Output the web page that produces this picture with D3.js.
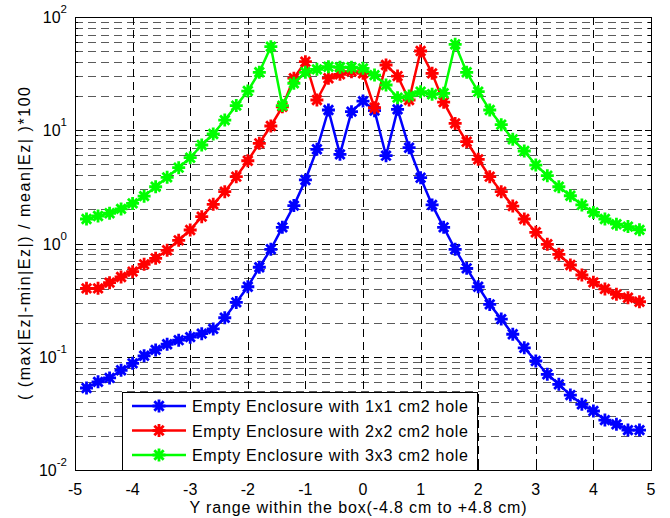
<!DOCTYPE html>
<html>
<head>
<meta charset="utf-8">
<script src="https://cdn.jsdelivr.net/npm/d3@7"></script>
<style>
  html, body { margin: 0; padding: 0; background: #fff; }
  svg { display: block; font-family: "Liberation Sans", Arial, Helvetica, sans-serif; }
</style>
</head>
<body>
<svg id="chart" width="670" height="518"></svg>
<script>
// ---- data ----
const xValues = [-4.8,-4.6,-4.4,-4.2,-4.0,-3.8,-3.6,-3.4,-3.2,-3.0,-2.8,-2.6,-2.4,-2.2,-2.0,-1.8,-1.6,-1.4,-1.2,-1.0,-0.8,-0.6,-0.4,-0.2,0,
                 0.2,0.4,0.6,0.8,1.0,1.2,1.4,1.6,1.8,2.0,2.2,2.4,2.6,2.8,3.0,3.2,3.4,3.6,3.8,4.0,4.2,4.4,4.6,4.8];

const hole1x1 = [0.053,0.060,0.065,0.076,0.0875,0.102,0.115,0.129,0.140,0.149,0.160,0.176,0.221,0.302,0.415,0.617,0.889,1.39,2.16,3.64,6.79,15.1,6.13,14.6,18.1,
                 14.9,5.96,15.3,7.01,3.81,2.19,1.39,0.889,0.604,0.415,0.290,0.215,0.158,0.120,0.0917,0.070,0.0571,0.0459,0.0380,0.0332,0.0276,0.0253,0.0225,0.0225];

const hole2x2 = [0.402,0.402,0.451,0.506,0.564,0.655,0.740,0.871,1.067,1.316,1.725,2.22,2.87,3.89,5.38,7.67,10.9,16.1,28.8,40.3,18.5,28.8,31.2,32.9,31.8,
                 15.8,37.7,30.1,18.5,50.1,31.8,17.7,11.5,7.92,5.54,3.89,2.87,2.14,1.645,1.256,0.984,0.803,0.646,0.527,0.454,0.397,0.356,0.332,0.306];

const hole3x3 = [1.645,1.75,1.85,2.02,2.26,2.62,3.17,3.84,4.67,5.72,7.41,9.27,12.3,16.5,22.2,32.5,54.7,16.5,26.0,32.5,34.5,36.4,36.0,36.0,35.2,
                 30.7,25.1,19.4,20.1,21.9,20.8,21.2,57.4,32.5,21.9,15.1,11.2,8.32,6.56,4.93,3.97,3.17,2.64,2.19,1.88,1.645,1.48,1.41,1.32];

const seriesNames = ["Empty Enclosure with 1x1 cm2 hole",
                     "Empty Enclosure with 2x2 cm2 hole",
                     "Empty Enclosure with 3x3 cm2 hole"];
const seriesColors = ["#0000ff", "#ff0000", "#00ff00"];
const xTickValues = [-5,-4,-3,-2,-1,0,1,2,3,4,5];
const yTickExponents = [-2,-1,0,1,2];
const xLabel = "Y range within the box(-4.8 cm to +4.8 cm)";
const yLabel = "( (max|Ez|-min|Ez|) / mean|Ez| )*100";

// ---- layout ----
const svg = d3.select("#chart");
const L = 75, T = 17, W = 576, H = 453;
const x = d3.scaleLinear().domain([-5, 5]).range([L, L + W]);
const y = d3.scaleLog().domain([0.01, 100]).range([T + H, T]);

const g = svg.append("g");

// minor y values
const minorY = [];
for (let e = -2; e < 2; e++) for (let m = 2; m <= 9; m++) minorY.push(m * Math.pow(10, e));

const dash = "8,5";
// grid: minor horizontal
g.append("g").selectAll("line").data(minorY).join("line")
  .attr("x1", L).attr("x2", L + W)
  .attr("y1", d => Math.round(y(d)) + 0.5).attr("y2", d => Math.round(y(d)) + 0.5)
  .attr("stroke", "#5a5a5a").attr("stroke-width", 1).attr("stroke-dasharray", dash);
// grid: major horizontal
g.append("g").selectAll("line").data(yTickExponents.slice(1, -1)).join("line")
  .attr("x1", L).attr("x2", L + W)
  .attr("y1", d => Math.round(y(Math.pow(10, d))) + 0.5).attr("y2", d => Math.round(y(Math.pow(10, d))) + 0.5)
  .attr("stroke", "#000").attr("stroke-width", 1).attr("stroke-dasharray", dash);
// grid: vertical
g.append("g").selectAll("line").data(xTickValues.slice(1, -1)).join("line")
  .attr("x1", d => Math.round(x(d)) + 0.5).attr("x2", d => Math.round(x(d)) + 0.5)
  .attr("y1", T).attr("y2", T + H)
  .attr("stroke", "#000").attr("stroke-width", 1).attr("stroke-dasharray", dash);

// ticks (inward)
const tk = g.append("g").attr("stroke", "#000").attr("stroke-width", 1);
xTickValues.forEach(v => {
  const px = Math.round(x(v)) + 0.5;
  tk.append("line").attr("x1", px).attr("x2", px).attr("y1", T + H).attr("y2", T + H - 6);
  tk.append("line").attr("x1", px).attr("x2", px).attr("y1", T).attr("y2", T + 6);
});
yTickExponents.forEach(e => {
  const py = Math.round(y(Math.pow(10, e))) + 0.5;
  tk.append("line").attr("x1", L).attr("x2", L + 6).attr("y1", py).attr("y2", py);
  tk.append("line").attr("x1", L + W).attr("x2", L + W - 6).attr("y1", py).attr("y2", py);
});
minorY.forEach(v => {
  const py = Math.round(y(v)) + 0.5;
  tk.append("line").attr("x1", L).attr("x2", L + 3).attr("y1", py).attr("y2", py);
  tk.append("line").attr("x1", L + W).attr("x2", L + W - 3).attr("y1", py).attr("y2", py);
});

// series
const allSeries = [hole1x1, hole2x2, hole3x3];
const line = d3.line().x((d, i) => x(xValues[i])).y(d => y(d));
const starPath = (r) => {
  const d = r * 0.72;
  return `M${-r},0L${r},0M0,${-r}L0,${r}M${-d},${-d}L${d},${d}M${-d},${d}L${d},${-d}`;
};
allSeries.forEach((vals, si) => {
  const sg = g.append("g");
  sg.append("path").datum(vals).attr("d", line)
    .attr("fill", "none").attr("stroke", seriesColors[si]).attr("stroke-width", 2.5)
    .attr("stroke-linejoin", "round");
  sg.selectAll("path.m").data(vals).join("path").attr("class", "m")
    .attr("transform", (d, i) => `translate(${x(xValues[i])},${y(d)})`)
    .attr("d", starPath(6.5))
    .attr("stroke", seriesColors[si]).attr("stroke-width", 2.8).attr("fill", "none");
});

// axes box
g.append("rect").attr("x", L + 0.5).attr("y", T + 0.5).attr("width", W).attr("height", H)
  .attr("fill", "none").attr("stroke", "#000").attr("stroke-width", 1);

// x tick labels
g.append("g").selectAll("text").data(xTickValues).join("text")
  .attr("x", d => x(d)).attr("y", T + H + 25)
  .attr("text-anchor", "middle").attr("font-size", 16).attr("fill", "#000")
  .text(d => d);

// y tick labels
yTickExponents.forEach(e => {
  const t = g.append("text").attr("x", L - 8).attr("y", y(Math.pow(10, e)) + 6)
    .attr("text-anchor", "end").attr("font-size", 16).attr("fill", "#000");
  t.append("tspan").text("10");
  t.append("tspan").attr("dy", -10).attr("font-size", 11.5).text(e);
});

// axis labels
g.append("text").attr("x", x(0) - 5).attr("y", 513).attr("text-anchor", "middle")
  .attr("font-size", 16).attr("fill", "#000")
  .attr("textLength", 337).attr("lengthAdjust", "spacing").text(xLabel);
g.append("text").attr("transform", `translate(30,${T + H / 2}) rotate(-90)`)
  .attr("text-anchor", "middle").attr("font-size", 16).attr("fill", "#000")
  .attr("textLength", 313).attr("lengthAdjust", "spacing").text(yLabel);

// legend
const lg = g.append("g");
const lgX = 122, lgY = 392, lgW = 355, lgH = 78;
lg.append("rect").attr("x", lgX + 0.5).attr("y", lgY + 0.5).attr("width", lgW).attr("height", lgH)
  .attr("fill", "#fff").attr("stroke", "#000").attr("stroke-width", 1);
seriesNames.forEach((name, i) => {
  const ry = lgY + 14 + i * 24.5;
  lg.append("line").attr("x1", lgX + 10).attr("x2", lgX + 64).attr("y1", ry).attr("y2", ry)
    .attr("stroke", seriesColors[i]).attr("stroke-width", 2.5);
  lg.append("path").attr("transform", `translate(${lgX + 37},${ry})`).attr("d", starPath(6.5))
    .attr("stroke", seriesColors[i]).attr("stroke-width", 2.8).attr("fill", "none");
  lg.append("text").attr("x", lgX + 70).attr("y", ry + 6).attr("font-size", 16).attr("fill", "#000")
    .attr("textLength", 276).attr("lengthAdjust", "spacing").text(name);
});
</script>
</body>
</html>
